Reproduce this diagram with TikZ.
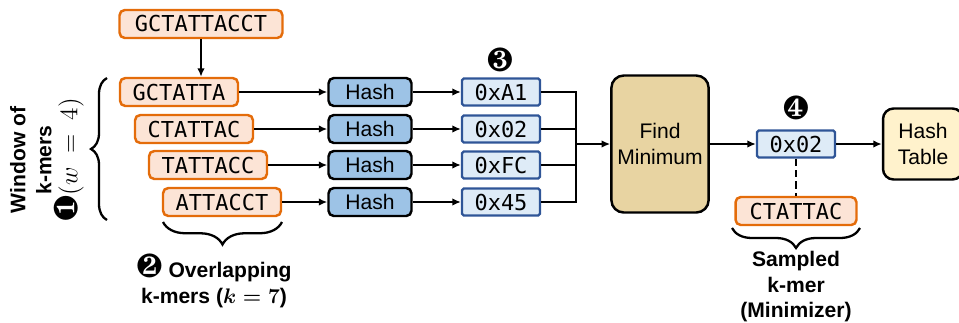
\documentclass[tikz,border=0pt]{standalone}
\usepackage{fontspec}
\setmainfont{Liberation Sans}
\setmonofont{DejaVu Sans Mono}
\usepackage{pifont}
\usetikzlibrary{arrows.meta,decorations.pathreplacing}

\definecolor{kOrange}{HTML}{E46C0A}
\definecolor{kPeach}{HTML}{FCE4D6}
\definecolor{hBlue}{HTML}{9DC3E6}
\definecolor{vBlue}{HTML}{2F5597}
\definecolor{vLight}{HTML}{DEEBF7}
\definecolor{fTan}{HTML}{E8D4A2}
\definecolor{tYellow}{HTML}{FFF2CC}

\begin{document}
\begin{tikzpicture}[x=0.02cm, y=-0.02cm, font=\fontsize{12}{14.5}\selectfont,
  kmer/.style={draw=kOrange, fill=kPeach, line width=1.4pt, rounded corners=3pt, minimum height=0.56cm, inner sep=0pt, font=\fontsize{12.5}{14}\ttfamily},
  hashbox/.style={draw=black, fill=hBlue, line width=1.4pt, rounded corners=3pt, minimum width=1.66cm, minimum height=0.56cm, inner sep=0pt},
  hexval/.style={draw=vBlue, fill=vLight, line width=1.3pt, rounded corners=1pt, minimum width=1.56cm, minimum height=0.54cm, inner sep=0pt, font=\fontsize{12.5}{14}\ttfamily},
  conn/.style={-{Latex[length=1.7mm,width=1.5mm]}, line width=1.2pt},
  brace/.style={decorate, decoration={brace, amplitude=#1}, line width=1.3pt},
  numb/.style={font=\fontsize{19}{19}\selectfont}]
\useasboundingbox (0,0) rectangle (959,322);
% input sequence and its k-mers
\node[kmer, minimum width=3.26cm] (S) at (201,24) {GCTATTACCT};
\node[kmer, minimum width=2.36cm] (K0) at (179,92) {GCTATTA};
\node[kmer, minimum width=2.36cm] (K1) at (194,129) {CTATTAC};
\node[kmer, minimum width=2.36cm] (K2) at (208,165) {TATTACC};
\node[kmer, minimum width=2.36cm] (K3) at (222,202) {ATTACCT};
% hashing
\node[hashbox] (H0) at (370,92) {Hash};
\node[hashbox] (H1) at (370,129) {Hash};
\node[hashbox] (H2) at (370,165) {Hash};
\node[hashbox] (H3) at (370,202) {Hash};
\node[hexval] (V0) at (501,92) {0xA1};
\node[hexval] (V1) at (501,129) {0x02};
\node[hexval] (V2) at (501,165) {0xFC};
\node[hexval] (V3) at (501,202) {0x45};
\coordinate (J) at (576,144);
% minimum and output
\node[draw=black, fill=fTan, line width=1.4pt, rounded corners=7pt, minimum width=1.94cm, minimum height=2.74cm, align=center] (F) at (660,144) {Find\\Minimum};
\node[hexval] (M) at (796,144) {0x02};
\node[draw=black, fill=tYellow, line width=1.4pt, rounded corners=6pt, minimum width=1.6cm, minimum height=1.42cm, align=center] (T) at (923,144) {Hash\\Table};
\node[kmer, minimum width=2.42cm] (C) at (796,211) {CTATTAC};
% labels
\node[numb] (N3) at (500,60) {\ding{184}};
\node[numb] (N4) at (796,108) {\ding{185}};
\node[rotate=90, align=center, font=\fontsize{12}{14.8}\bfseries] (W) at (47,160) {Window of\\k-mers\\{\mdseries\fontsize{19}{15}\selectfont\ding{182}}{\fontsize{13.5}{15}\selectfont$(w\;=\;4)$}};
\node[align=center, font=\fontsize{12}{14.5}\bfseries] (OL) at (214,281) {{\fontsize{19}{15}\selectfont\ding{183}} Overlapping\\k-mers ({\boldmath$k=7$})};
\node[align=center, font=\fontsize{12}{14.5}\bfseries] (SK) at (796,287) {Sampled\\k-mer\\(Minimizer)};
% braces
\draw[brace=0.32cm] (107,220) -- (107,78);
\draw[brace=0.45cm] (282,222) -- (163,222);
\draw[brace=0.4cm] (860,228) -- (732,228);
% connectors
\draw[conn] (S.south) -- (S.south |- K0.north);
\draw[conn] (K0) -- (H0);
\draw[conn] (K1) -- (H1);
\draw[conn] (K2) -- (H2);
\draw[conn] (K3) -- (H3);
\draw[conn] (H0) -- (V0);
\draw[conn] (H1) -- (V1);
\draw[conn] (H2) -- (V2);
\draw[conn] (H3) -- (V3);
\draw[line width=1.2pt] (V0.east) -| (J);
\draw[line width=1.2pt] (V1.east) -| (J);
\draw[line width=1.2pt] (V2.east) -| (J);
\draw[line width=1.2pt] (V3.east) -| (J);
\draw[conn] (J) -- (F.west);
\draw[conn] (F) -- (M);
\draw[conn] (M) -- (T);
\draw[line width=1.3pt, dash pattern=on 4pt off 2.5pt] (M) -- (C);
\end{tikzpicture}
\end{document}
